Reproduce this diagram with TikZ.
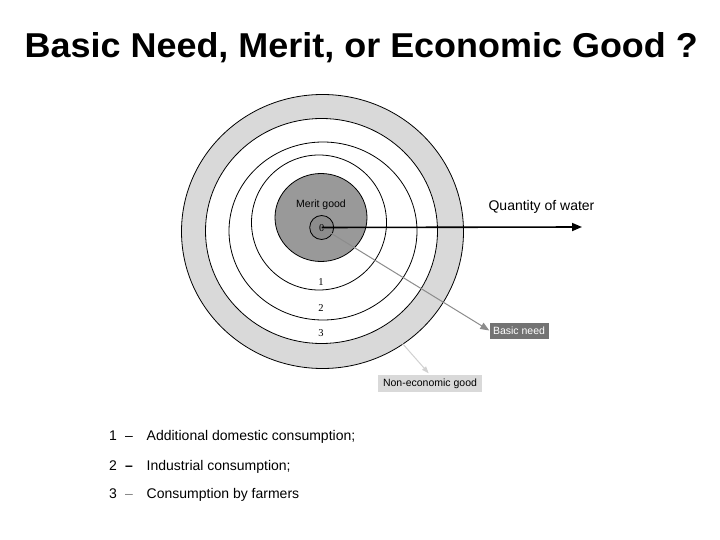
\documentclass[tikz,border=0pt]{standalone}
\usepackage{fontspec}
\setmainfont{Liberation Sans}
\newfontfamily\ringfont{Liberation Serif}
\usetikzlibrary{arrows.meta}
\definecolor{bandgray}{gray}{0.85}
\definecolor{meritgray}{gray}{0.6}
\definecolor{coregray}{gray}{0.55}
\definecolor{needgray}{gray}{0.45}
\definecolor{linegray}{gray}{0.55}
\definecolor{palegray}{gray}{0.82}
\begin{document}
\begin{tikzpicture}[x=1pt, y=-1pt,
	ring/.style={draw=black, line width=0.8pt},
	ringlabel/.style={font=\ringfont\fontsize{10.5}{10.5}\selectfont, inner sep=0pt},
	callout/.style={font=\fontsize{10.5}{12}\selectfont, inner sep=2pt},
	legend/.style={font=\fontsize{14}{16}\selectfont, anchor=base west, inner sep=0pt}]
	\useasboundingbox (0, 0) rectangle (720, 540);
	\node (title) at (24.5, 57.3) [anchor=base west, inner sep=0pt, font=\fontsize{34.5}{40}\selectfont\bfseries] {\scalebox{1.042}[1]{Basic Need, Merit, or Economic Good ?}};
	% rings, from outside in
	\filldraw[ring, fill=bandgray] (322.5, 231.5) ellipse [x radius=141, y radius=137];
	\filldraw[ring, fill=white] (321.5, 231) ellipse [x radius=116, y radius=112.5];
	\draw[ring] (323, 231) ellipse [x radius=94, y radius=89];
	\draw[ring] (319, 222.5) circle [radius=67.5];
	\filldraw[ring, fill=meritgray] (321, 217.5) ellipse [x radius=46, y radius=44];
	\node (core) at (321.7, 227.5) [circle, draw, line width=0.8pt, fill=coregray, minimum size=24pt, inner sep=0pt] {};
	\node (zero) at (321.7, 228) [ringlabel] {0};
	\node (merit) at (321, 205) [font=\fontsize{10.5}{12}\selectfont, inner sep=0pt] {Merit good};
	\node (one) at (321, 282) [ringlabel] {1};
	\node (two) at (321, 308) [ringlabel] {2};
	\node (three) at (321, 333) [ringlabel] {3};
	% callouts
	\coordinate (qtytip) at (582, 227);
	\node (qty) at (541.5, 207) [font=\fontsize{14}{16}\selectfont, inner sep=0pt] {Quantity of water};
	\node (need) at (519, 330.5) [callout, fill=needgray, text=white, minimum width=59pt, minimum height=16pt] {Basic need};
	\node (noneco) at (430, 383.5) [callout, fill=bandgray, minimum width=104pt, minimum height=17pt] {Non-economic good};
	\coordinate (ecostart) at (402, 343);
	\draw[linegray, line width=1pt, -{Triangle[length=9pt, width=7pt]}] (core.center) -- (need.west);
	\draw[palegray, line width=1pt, -{Triangle[length=7pt, width=5pt]}, shorten >=2pt] (ecostart) -- (noneco.north);
	\draw[black, line width=1.6pt, -{Triangle[length=10pt, width=8pt]}] (core.center) -- (qtytip);
	% legend
	\node (n1) at (109, 440) [legend] {1};
	\node (d1) at (125, 440) [legend] {–};
	\node (t1) at (146.5, 440) [legend] {Additional domestic consumption;};
	\node (n2) at (109, 470) [legend] {2};
	\node (d2) at (125, 470) [legend, font=\fontsize{14}{16}\selectfont\bfseries] {–};
	\node (t2) at (146.5, 470) [legend] {Industrial consumption;};
	\node (n3) at (109, 498) [legend] {3};
	\node (d3) at (125, 498) [legend, text=gray] {–};
	\node (t3) at (146.5, 498) [legend] {Consumption by farmers};
\end{tikzpicture}
\end{document}
